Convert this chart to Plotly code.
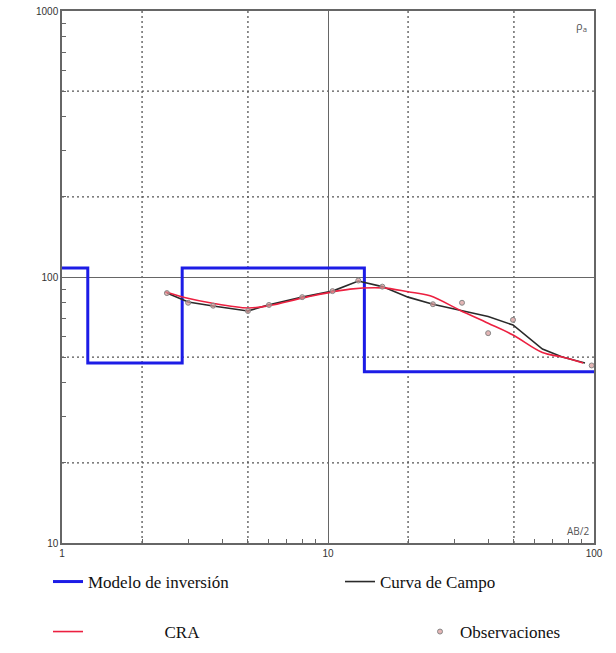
import plotly.graph_objects as go

# Inversion model (layer boundaries in AB/2 and resistivities)
model_x = [1, 1.25, 2.83, 13.7, 100]
model_rho = [108, 47.5, 108, 44, 44]

# Field curve
field_x = [2.48, 2.98, 3.7, 5.0, 5.95, 8.0, 10.4, 13.0, 16, 20, 24.8, 31.3, 40, 49.6, 64, 76, 92.5]
field_y = [87, 80.5, 77.8, 74.5, 78.5, 84, 88.5, 96.6, 92, 84, 79, 75, 71, 66, 53.6, 50, 47.5]

# CRA (calculated apparent resistivity curve)
cra_x = [2.44, 3.0, 3.6, 5.0, 6.0, 8.3, 12.1, 16, 20, 24.2, 31.3, 40, 49.6, 64, 76, 91]
cra_y = [88, 83, 80, 76.5, 78, 84, 90, 91, 88, 85, 75, 67, 60.5, 52, 50, 47.5]

# Observations
obs_x = [2.48, 2.98, 3.7, 5.0, 6.0, 8.0, 10.4, 13.0, 16, 24.8, 31.9, 40, 49.6, 98]
obs_y = [87, 80, 78, 74.5, 78.5, 84, 88.5, 97, 92, 79, 80, 61.5, 69, 46.5]

x_ticks = [1, 10, 100]
y_ticks = [10, 100, 1000]
x_dotted = [2, 5, 20, 50]
y_dotted = [20, 50, 200, 500]
x_minor = [2, 3, 4, 5, 6, 7, 8, 9, 20, 30, 40, 50, 60, 70, 80, 90]
y_minor = [20, 30, 40, 50, 60, 70, 80, 90, 200, 300, 400, 500, 600, 700, 800, 900]

NB = "\u00a0"

fig = go.Figure()
fig.add_trace(go.Scatter(x=model_x, y=model_rho, mode="lines", line_shape="hv",
                         line=dict(color="#1c1ce6", width=3),
                         name="Modelo de inversión", legend="legend"))
fig.add_trace(go.Scatter(x=field_x, y=field_y, mode="lines",
                         line=dict(color="#2a2a2a", width=1.6),
                         name="Curva de Campo", legend="legend2"))
fig.add_trace(go.Scatter(x=cra_x, y=cra_y, mode="lines", line_shape="spline",
                         line=dict(color="#ec2040", width=1.6),
                         name=NB * 18 + "CRA", legend="legend3"))
fig.add_trace(go.Scatter(x=obs_x, y=obs_y, mode="markers",
                         marker=dict(size=5, color="rgba(215,150,150,0.7)",
                                     line=dict(color="#888888", width=1)),
                         name="Observaciones", legend="legend4"))

for xv in x_dotted:
    fig.add_shape(type="line", xref="x", yref="paper", x0=xv, x1=xv, y0=0, y1=1,
                  line=dict(color="#555555", width=1.3, dash="2px,3px"), layer="below")
for yv in y_dotted:
    fig.add_shape(type="line", xref="paper", yref="y", x0=0, x1=1, y0=yv, y1=yv,
                  line=dict(color="#555555", width=1.3, dash="2px,3px"), layer="below")

axis_common = dict(
    showline=True, mirror=True, linecolor="#666666", linewidth=1.5,
    showgrid=True, gridcolor="#666666", gridwidth=1,
    ticks="", zeroline=False, automargin=False,
    tickfont=dict(family="Arial, Liberation Sans", size=10, color="#333333"),
)
fig.update_xaxes(type="log", range=[0, 2], tickvals=x_ticks, ticktext=[str(v) for v in x_ticks],
                 minor=dict(tickvals=x_minor, ticks="inside", ticklen=4, tickcolor="#666666",
                            showgrid=False),
                 ticklabelstandoff=0, **axis_common)
fig.update_yaxes(type="log", range=[1, 3], tickvals=y_ticks, ticktext=[str(v) for v in y_ticks],
                 minor=dict(tickvals=y_minor, ticks="inside", ticklen=4, tickcolor="#666666",
                            showgrid=False),
                 ticklabelstandoff=0, **axis_common)

fig.add_annotation(x=0.99, y=0.99, xref="paper", yref="paper", text="ρ<sub>a</sub>",
                   showarrow=False, xanchor="right", yanchor="top",
                   font=dict(size=11, color="#555555"))
fig.add_annotation(x=0.995, y=0.005, xref="paper", yref="paper", text="AB/2",
                   showarrow=False, xanchor="right", yanchor="bottom",
                   font=dict(size=10, color="#555555"))

legend_font = dict(family="Liberation Serif, Times New Roman, serif", size=17, color="#111111")


def leg(xpx, ypx):
    return dict(orientation="h", x=(xpx - 62) / 532, y=(543 - ypx) / 532,
                xanchor="left", yanchor="middle", font=legend_font,
                bgcolor="rgba(0,0,0,0)")


fig.update_layout(
    width=616, height=653,
    margin=dict(l=62, r=22, t=11, b=110, autoexpand=False),
    paper_bgcolor="white", plot_bgcolor="white",
    showlegend=True,
    legend=leg(48, 582),
    legend2=leg(340, 582),
    legend3=leg(48, 632),
    legend4=leg(420, 632),
)

fig.write_html("out.html", config={"displayModeBar": False},
               post_script="document.body.style.margin='0';document.body.style.overflow='hidden';")
